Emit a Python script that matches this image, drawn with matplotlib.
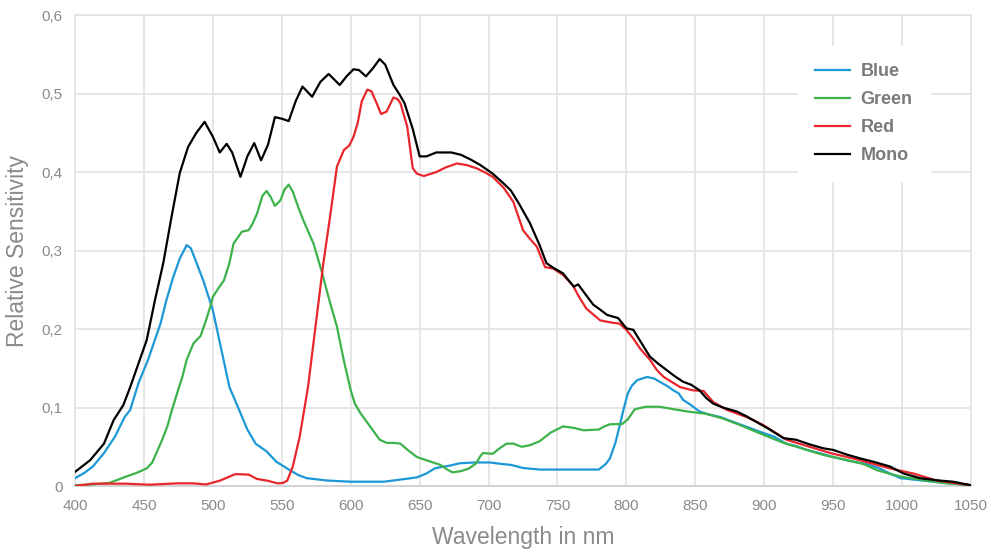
import matplotlib
matplotlib.use("Agg")
import matplotlib.pyplot as plt
from matplotlib.ticker import FuncFormatter, MultipleLocator

plt.rcParams['font.family'] = ['Liberation Sans', 'DejaVu Sans']

# ---- data ----
mono_x = [400, 411, 421, 428, 435, 440, 447, 452, 458, 464, 470, 476, 482, 488, 494, 500, 505, 510, 514, 520,
          525, 530, 535, 540, 545, 550, 555, 560, 565, 572, 578, 584, 592, 597, 602, 606, 611, 616, 621, 625,
          631, 635, 639, 645, 650, 655, 662, 673, 680, 687, 694, 703, 710, 716, 722, 730, 737, 742, 747, 754,
          759, 762, 765, 770, 776, 780, 786, 794, 800, 805, 811, 817, 823, 829, 835, 841, 847, 853, 858, 863,
          870, 880, 887, 894, 904, 914, 923, 933, 943, 950, 960, 970, 979, 991, 1001, 1013, 1027, 1037, 1050]
mono_y = [0.018, 0.033, 0.054, 0.084, 0.103, 0.126, 0.161, 0.186, 0.237, 0.284, 0.343, 0.399, 0.432, 0.450,
          0.464, 0.445, 0.425, 0.436, 0.425, 0.394, 0.420, 0.437, 0.415, 0.435, 0.470, 0.468, 0.465, 0.490,
          0.509, 0.496, 0.515, 0.525, 0.511, 0.522, 0.531, 0.530, 0.522, 0.532, 0.544, 0.537, 0.511, 0.500,
          0.488, 0.455, 0.420, 0.420, 0.425, 0.425, 0.422, 0.416, 0.409, 0.398, 0.387, 0.377, 0.360, 0.335,
          0.307, 0.284, 0.278, 0.271, 0.260, 0.254, 0.257, 0.245, 0.231, 0.226, 0.218, 0.214, 0.201, 0.199,
          0.182, 0.165, 0.156, 0.148, 0.140, 0.133, 0.129, 0.122, 0.112, 0.105, 0.100, 0.095, 0.089, 0.082,
          0.072, 0.061, 0.059, 0.053, 0.048, 0.046, 0.040, 0.035, 0.031, 0.025, 0.016, 0.010, 0.007, 0.0055,
          0.001]

blue_x = [400, 407, 413, 421, 429, 436, 440, 446, 453, 462, 466, 471, 476, 481, 484, 488, 493, 500, 506, 512,
          520, 525, 531, 539, 546, 556, 562, 568, 583, 600, 624, 635, 643, 648, 655, 661, 665, 672, 679, 690,
          701, 710, 716, 725, 737, 760, 780, 785, 788, 792, 795, 798, 801, 804, 808, 815, 820, 824, 830, 834,
          838, 841, 847, 853, 860, 868, 874, 880, 888, 897, 907, 916, 923, 931, 940, 950, 962, 974, 983, 991,
          999, 1015, 1030, 1050]
blue_y = [0.010, 0.017, 0.025, 0.042, 0.063, 0.088, 0.097, 0.131, 0.161, 0.207, 0.235, 0.265, 0.290, 0.307,
          0.303, 0.285, 0.262, 0.224, 0.175, 0.126, 0.093, 0.072, 0.054, 0.044, 0.031, 0.020, 0.014, 0.010,
          0.007, 0.0055, 0.0055, 0.008, 0.0098, 0.011, 0.016, 0.0225, 0.024, 0.026, 0.029, 0.030, 0.030, 0.028,
          0.027, 0.023, 0.021, 0.021, 0.021, 0.028, 0.035, 0.055, 0.076, 0.098, 0.118, 0.128, 0.135, 0.139,
          0.137, 0.133, 0.127, 0.122, 0.118, 0.110, 0.103, 0.095, 0.091, 0.088, 0.084, 0.080, 0.075, 0.069,
          0.063, 0.054, 0.051, 0.046, 0.042, 0.037, 0.032, 0.028, 0.023, 0.016, 0.010, 0.007, 0.004, 0.001]

green_x = [400, 412, 425, 437, 445, 452, 456, 459, 463, 467, 470, 474, 478, 481, 486, 491, 495, 498, 500, 504,
           508, 512, 515, 521, 526, 529, 532, 536, 539, 542, 545, 549, 552, 555, 558, 562, 566, 573, 579, 584,
           590, 595, 600, 603, 607, 614, 621, 626, 631, 636, 642, 648, 658, 665, 670, 674, 680, 686, 691, 694,
           696, 703, 708, 713, 718, 724, 730, 737, 745, 754, 762, 769, 780, 784, 788, 797, 801, 806, 814, 824,
           834, 844, 858, 870, 882, 897, 914, 931, 943, 955, 972, 982, 999, 1015, 1030, 1050]
green_y = [0.001, 0.002, 0.004, 0.012, 0.017, 0.0225, 0.030, 0.042, 0.058, 0.076, 0.095, 0.118, 0.140, 0.161,
           0.182, 0.191, 0.211, 0.228, 0.241, 0.252, 0.262, 0.284, 0.309, 0.324, 0.326, 0.335, 0.347, 0.370,
           0.376, 0.368, 0.357, 0.364, 0.378, 0.384, 0.375, 0.355, 0.337, 0.309, 0.273, 0.240, 0.203, 0.160,
           0.122, 0.105, 0.093, 0.076, 0.059, 0.055, 0.055, 0.054, 0.045, 0.037, 0.031, 0.027, 0.021, 0.0174,
           0.019, 0.0225, 0.029, 0.038, 0.042, 0.041, 0.048, 0.054, 0.054, 0.050, 0.052, 0.057, 0.068, 0.076,
           0.074, 0.071, 0.072, 0.076, 0.0786, 0.079, 0.085, 0.0977, 0.101, 0.101, 0.098, 0.095, 0.092, 0.086,
           0.078, 0.067, 0.055, 0.046, 0.0395, 0.035, 0.028, 0.020, 0.012, 0.0077, 0.004, 0.001]

red_x = [400, 413, 437, 454, 474, 486, 495, 505, 512, 516, 520, 526, 532, 539, 547, 551, 554, 558, 563, 569,
         575, 580, 585, 590, 595, 599, 602, 605, 608, 612, 615, 619, 622, 626, 631, 634, 636, 641, 645, 648,
         653, 662, 669, 677, 684, 691, 697, 703, 711, 718, 725, 730, 735, 741, 747, 754, 761, 766, 771, 781,
         790, 795, 800, 805, 810, 817, 822, 827, 839, 848, 856, 863, 873, 887, 899, 916, 931, 948, 967, 991,
         1008, 1025, 1050]
red_y = [0.0, 0.003, 0.003, 0.0017, 0.0034, 0.0034, 0.002, 0.0068, 0.012, 0.015, 0.015, 0.0145, 0.009, 0.007,
         0.0034, 0.004, 0.007, 0.025, 0.063, 0.126, 0.211, 0.282, 0.343, 0.407, 0.428, 0.434, 0.445, 0.462,
         0.490, 0.505, 0.503, 0.487, 0.474, 0.477, 0.495, 0.493, 0.488, 0.458, 0.405, 0.398, 0.395, 0.400,
         0.406, 0.411, 0.409, 0.405, 0.400, 0.394, 0.380, 0.362, 0.326, 0.315, 0.305, 0.279, 0.277, 0.269,
         0.256, 0.240, 0.226, 0.211, 0.208, 0.207, 0.199, 0.188, 0.175, 0.161, 0.148, 0.139, 0.126, 0.122,
         0.121, 0.107, 0.097, 0.088, 0.078, 0.059, 0.051, 0.042, 0.034, 0.0225, 0.016, 0.007, 0.001]

series = [
    ("Blue", blue_x, blue_y, "#1b98d5"),
    ("Green", green_x, green_y, "#3db24b"),
    ("Red", red_x, red_y, "#e8262b"),
    ("Mono", mono_x, mono_y, "#000000"),
]

x_label = "Wavelength in nm"
y_label = "Relative Sensitivity"

# ---- figure ----
fig = plt.figure(figsize=(9.9, 5.54), dpi=100)
ax = fig.add_axes([0.0758, 0.1227, 0.905, 0.850])

for name, xs, ys, col in series:
    ax.plot(xs, ys, color=col, lw=1.6, label=name, solid_joinstyle='round', zorder=3)

ax.set_xlim(400, 1050)
ax.set_ylim(0, 0.6)
ax.xaxis.set_major_locator(MultipleLocator(50))
ax.yaxis.set_major_locator(MultipleLocator(0.1))
ax.yaxis.set_major_formatter(FuncFormatter(lambda v, p: "0" if abs(v) < 1e-9 else f"{v:.1f}".replace(".", ",")))

grid_col = "#e4e4e4"
ax.grid(True, color=grid_col, lw=1.3, zorder=0)
for s in ax.spines.values():
    s.set_color(grid_col)
    s.set_linewidth(1.3)
ax.spines['bottom'].set_color("#d0d0d0")
ax.tick_params(length=0, labelsize=11, labelcolor="#8a8a8a")
ax.tick_params(axis='x', pad=9)
ax.tick_params(axis='y', pad=9)

ax.set_xlabel(x_label, fontsize=16.5, color="#8a8a8a", labelpad=10)
ax.set_ylabel(y_label, fontsize=16.5, color="#8a8a8a", labelpad=9)

leg = ax.legend(loc="upper left", bbox_to_anchor=(0.807, 0.934), frameon=True, fancybox=False,
                framealpha=1, edgecolor="white", facecolor="white",
                prop={'weight': 'bold', 'size': 13}, handlelength=1.9, handletextpad=0.6,
                labelspacing=0.6, borderpad=0.95, borderaxespad=0)
for t in leg.get_texts():
    t.set_color("#7a7a7a")
for l in leg.get_lines():
    l.set_linewidth(1.6)

fig.savefig("out.png", dpi=100)
